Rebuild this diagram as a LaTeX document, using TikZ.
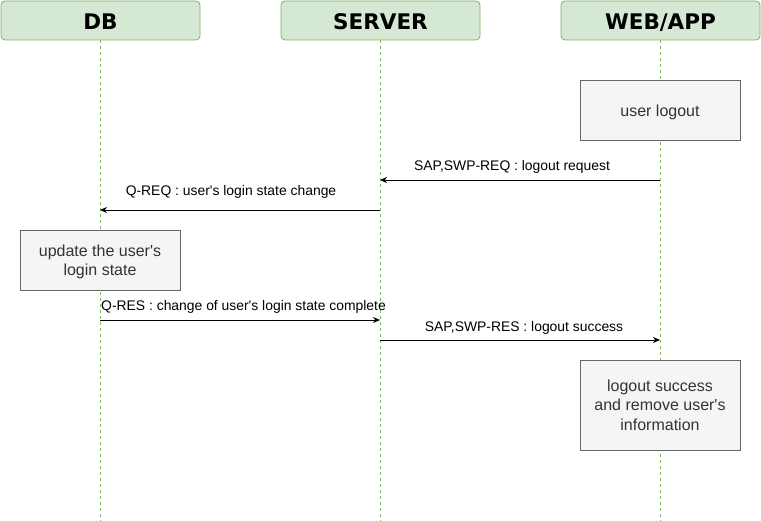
\documentclass[tikz,border=0pt]{standalone}
\usepackage{fontspec}
\setmainfont{Liberation Sans}[Ligatures=TeXOff]
\newfontfamily\headfont{DejaVu Sans}
\usetikzlibrary{arrows.meta}
\definecolor{hfill}{HTML}{D5E8D4}
\definecolor{hdraw}{HTML}{82B366}
\definecolor{bfill}{HTML}{F5F5F5}
\definecolor{bdraw}{HTML}{666666}
\definecolor{btext}{HTML}{333333}
\begin{document}
\begin{tikzpicture}[x=1pt,y=-1pt,
 head/.style={draw=hdraw, fill=hfill, rounded corners=4pt, minimum width=199pt, minimum height=39pt, inner sep=0pt, line width=0.8pt},
 headtext/.style={font=\headfont\bfseries\fontsize{21.5}{24}\selectfont, inner sep=0pt, text=black},
 actbox/.style={draw=bdraw, fill=bfill, minimum width=160pt, inner sep=0pt, line width=0.8pt},
 acttext/.style={font=\fontsize{16}{19.5}\selectfont, text=btext, align=center},
 life/.style={draw=hdraw, dash pattern=on 3pt off 3pt, line width=0.8pt},
 msg/.style={draw=black, line width=0.8pt, -{Stealth[length=7pt,width=6pt]}},
 lbl/.style={font=\fontsize{13.9}{16}\selectfont, inner sep=0pt, text=black}]
\useasboundingbox (0,0) rectangle (761,521);
% headers
\node[head] (db) at (100.5,20.5) {};
\node[head] (srv) at (380.5,20.5) {};
\node[head] (web) at (660.5,20.5) {};
\node[headtext, anchor=base] (dbt) at (100.5,30) {DB};
\node[headtext, anchor=base] (srvt) at (380.5,30) {SERVER};
\node[headtext, anchor=base] (webt) at (660.5,30) {WEB/APP};
% lifeline ends
\coordinate (dbend) at (100,521);
\coordinate (srvend) at (380,521);
\coordinate (webend) at (660,521);
\draw[life] (100,40) coordinate (dbtop) -- (dbend);
\draw[life] (380,40) coordinate (srvtop) -- (srvend);
\draw[life] (660,40) coordinate (webtop) -- (webend);
% activity boxes
\node[actbox, minimum height=60pt] (logout) at (660,110) {};
\node[acttext] (logoutt) at (660,112) {user logout};
\node[actbox, minimum height=60pt] (update) at (100,260) {};
\node[acttext] (updatet) at (100,262) {update the user's\\login state};
\node[actbox, minimum height=90pt] (done) at (660,405) {};
\node[acttext] (donet) at (660,405) {logout success\\and remove user's\\information};
% message anchors
\coordinate (w1) at (660,180); \coordinate (s1) at (380,180);
\coordinate (s2) at (380,210); \coordinate (d2) at (100,210);
\coordinate (d3) at (100,320); \coordinate (s3) at (380,320);
\coordinate (s4) at (380,340); \coordinate (w4) at (660,340);
\draw[msg] (w1) -- (s1);
\draw[msg] (s2) -- (d2);
\draw[msg] (d3) -- (s3);
\draw[msg] (s4) -- (w4);
% labels
\node[lbl] (l1) at (512,166.5) {SAP,SWP-REQ : logout request};
\node[lbl] (l2) at (231,191.5) {Q-REQ : user's login state change};
\node[lbl, anchor=west] (l3) at (101,306.5) {Q-RES : change of user's login state complete};
\node[lbl] (l4) at (524,327.5) {SAP,SWP-RES : logout success};
\end{tikzpicture}
\end{document}
